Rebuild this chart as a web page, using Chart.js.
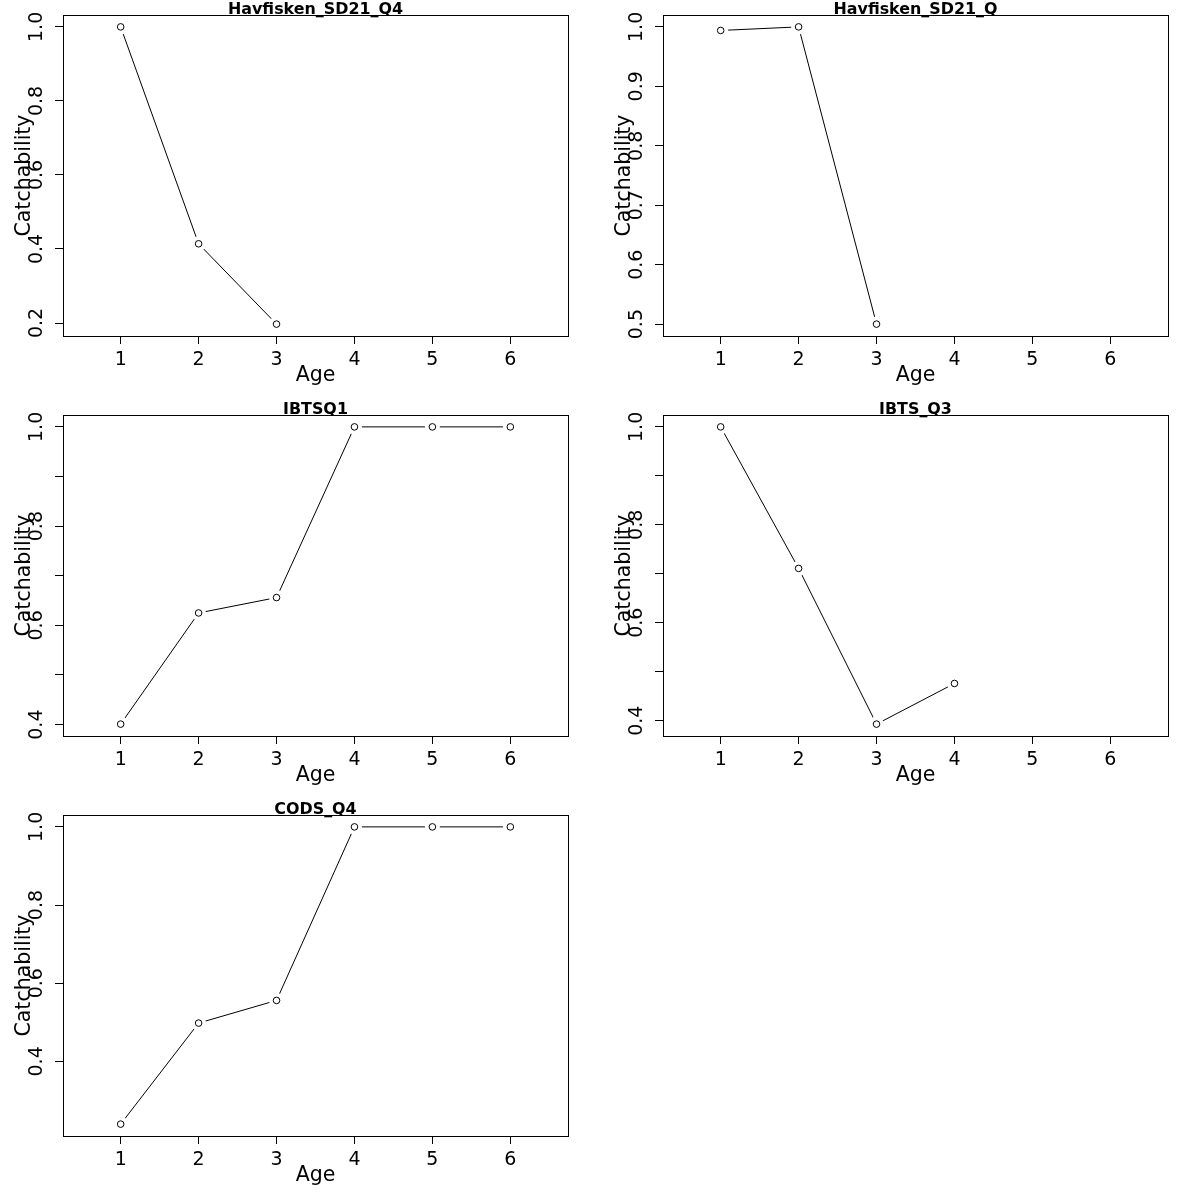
<!DOCTYPE html>
<html>
<head>
<meta charset="utf-8">
<script src="https://cdn.jsdelivr.net/npm/chart.js@4.4.1/dist/chart.umd.min.js"></script>
<style>
  html, body { margin: 0; padding: 0; background: #fff; }
  #wrap { position: relative; width: 1200px; height: 1200px; background: #fff; }
  .panel { position: absolute; width: 600px; height: 400px; }
  .panel canvas { width: 600px; height: 400px; }
</style>
</head>
<body>
<div id="wrap"></div>
<script>
// ---------------- data ----------------
const ages = [1, 2, 3, 4, 5, 6];
const xLimits = [0.5, 6.5];

const panelTitles = ["Havfisken_SD21_Q4", "Havfisken_SD21_Q", "IBTSQ1", "IBTS_Q3", "CODS_Q4"];

const havfiskenQ4 = [1.0, 0.414, 0.197, null, null, null];
const havfiskenQ  = [0.994, 1.0, 0.5, null, null, null];
const ibtsQ1      = [0.401, 0.625, 0.656, 1.0, 1.0, 1.0];
const ibtsQ3      = [1.0, 0.711, 0.393, 0.476, null, null];
const codsQ4      = [0.2395, 0.498, 0.556, 1.0, 1.0, 1.0];

// y tick marks and which of them carry a label
const yTicksHavQ4 = [0.2, 0.4, 0.6, 0.8, 1.0];
const yLabelsHavQ4 = [0.2, 0.4, 0.6, 0.8, 1.0];
const yTicksHavQ = [0.5, 0.6, 0.7, 0.8, 0.9, 1.0];
const yLabelsHavQ = [0.5, 0.6, 0.7, 0.8, 0.9, 1.0];
const yTicksIbtsQ1 = [0.4, 0.5, 0.6, 0.7, 0.8, 0.9, 1.0];
const yLabelsIbtsQ1 = [0.4, 0.6, 0.8, 1.0];
const yTicksIbtsQ3 = [0.4, 0.5, 0.6, 0.7, 0.8, 0.9, 1.0];
const yLabelsIbtsQ3 = [0.4, 0.6, 0.8, 1.0];
const yTicksCods = [0.4, 0.6, 0.8, 1.0];
const yLabelsCods = [0.4, 0.6, 0.8, 1.0];

const xAxisTitle = "Age";
const yAxisTitle = "Catchability";

// ---------------- layout / style ----------------
const panels = [
  { title: panelTitles[0], values: havfiskenQ4, yTicks: yTicksHavQ4, yLabels: yLabelsHavQ4, left: 0,   top: 0 },
  { title: panelTitles[1], values: havfiskenQ,  yTicks: yTicksHavQ,  yLabels: yLabelsHavQ,  left: 600, top: 0 },
  { title: panelTitles[2], values: ibtsQ1,      yTicks: yTicksIbtsQ1, yLabels: yLabelsIbtsQ1, left: 0,   top: 400 },
  { title: panelTitles[3], values: ibtsQ3,      yTicks: yTicksIbtsQ3, yLabels: yLabelsIbtsQ3, left: 600, top: 400 },
  { title: panelTitles[4], values: codsQ4,      yTicks: yTicksCods,  yLabels: yLabelsCods,  left: 0,   top: 800 }
];

const FONT = '"DejaVu Sans", "Liberation Sans", sans-serif';

function extendRange(lo, hi) {
  const d = (hi - lo) * 0.04;
  return [lo - d, hi + d];
}

const rPlot = {
  id: 'rplot',
  afterDraw(chart, args, opts) {
    const { ctx, chartArea: a } = chart;
    const xs = chart.scales.x, ys = chart.scales.y;
    ctx.save();
    // box
    ctx.strokeStyle = '#000';
    ctx.lineWidth = 1;
    ctx.strokeRect(a.left + 0.5, a.top + 0.5, a.right - a.left, a.bottom - a.top);
    ctx.fillStyle = '#000';
    // x tick labels
    ctx.font = '19px ' + FONT;
    ctx.textAlign = 'center';
    ctx.textBaseline = 'alphabetic';
    xs.ticks.forEach(t => {
      ctx.fillText(String(t.value), xs.getPixelForValue(t.value), a.bottom + 29);
    });
    // y tick labels (parallel to axis)
    opts.yLabels.forEach(v => {
      const py = ys.getPixelForValue(v);
      ctx.save();
      ctx.translate(a.left - 21, py);
      ctx.rotate(-Math.PI / 2);
      ctx.fillText(v.toFixed(1), 0, 0);
      ctx.restore();
    });
    // axis titles
    ctx.font = '20.5px ' + FONT;
    ctx.fillText(xAxisTitle, (a.left + a.right) / 2, a.bottom + 45);
    ctx.save();
    ctx.translate(a.left - 33, (a.top + a.bottom) / 2);
    ctx.rotate(-Math.PI / 2);
    ctx.fillText(yAxisTitle, 0, 0);
    ctx.restore();
    // main title
    ctx.font = 'bold 15.9px ' + FONT;
    ctx.fillText(opts.title, (a.left + a.right) / 2, a.top - 1);
    ctx.restore();
  }
};

const wrap = document.getElementById('wrap');

panels.forEach(p => {
  const div = document.createElement('div');
  div.className = 'panel';
  div.style.left = p.left + 'px';
  div.style.top = p.top + 'px';
  const cv = document.createElement('canvas');
  cv.width = 600; cv.height = 400;
  div.appendChild(cv);
  wrap.appendChild(div);

  const vals = p.values.filter(v => v !== null);
  const yr = extendRange(Math.min(...vals), Math.max(...vals));
  const xr = extendRange(xLimits[0], xLimits[1]);
  const pts = ages.map((a, i) => ({ x: a, y: p.values[i] }));

  new Chart(cv, {
    type: 'line',
    data: {
      datasets: [
        {
          data: pts,
          order: 2,
          borderColor: '#000',
          borderWidth: 1,
          spanGaps: false,
          pointRadius: 7.5,
          pointBorderWidth: 0,
          pointBackgroundColor: '#fff',
          pointBorderColor: '#fff',
          tension: 0
        },
        {
          data: pts,
          order: 1,
          showLine: false,
          pointRadius: 3.3,
          pointBorderWidth: 1,
          pointBorderColor: '#000',
          pointBackgroundColor: '#fff'
        }
      ]
    },
    options: {
      responsive: false,
      devicePixelRatio: 1,
      animation: false,
      events: [],
      layout: { padding: { top: 15, right: 32, left: 0, bottom: 0 } },
      plugins: {
        legend: { display: false },
        tooltip: { enabled: false },
        rplot: { title: p.title, yLabels: p.yLabels }
      },
      scales: {
        x: {
          type: 'linear',
          min: xr[0],
          max: xr[1],
          afterBuildTicks: s => { s.ticks = ages.map(v => ({ value: v })); },
          afterFit: s => { s.height = 64; },
          ticks: { display: false },
          border: { display: false },
          grid: { drawOnChartArea: false, drawTicks: true, tickLength: 8, color: '#000', tickColor: '#000', lineWidth: 1 }
        },
        y: {
          type: 'linear',
          min: yr[0],
          max: yr[1],
          afterBuildTicks: s => { s.ticks = p.yTicks.map(v => ({ value: v })); },
          afterFit: s => { s.width = 63; },
          ticks: { display: false },
          border: { display: false },
          grid: { drawOnChartArea: false, drawTicks: true, tickLength: 8, color: '#000', tickColor: '#000', lineWidth: 1 }
        }
      }
    },
    plugins: [rPlot]
  });
});
</script>
</body>
</html>
